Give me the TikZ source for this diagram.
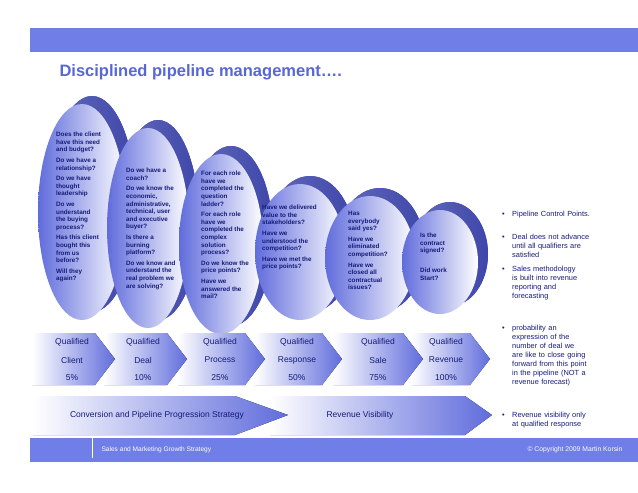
\documentclass[tikz,border=0pt]{standalone}
\usepackage{fontspec}
\setmainfont{Liberation Sans}
\usetikzlibrary{shapes.geometric}
\definecolor{bandblue}{RGB}{112,126,232}
\definecolor{midblue}{RGB}{96,108,220}
\definecolor{darkblue}{RGB}{62,70,170}
\definecolor{navy}{RGB}{22,28,120}
\definecolor{titleblue}{RGB}{88,104,210}
\newcommand{\bulletnote}[1]{\hyphenpenalty=10000\rightskip=0pt plus 40pt\hangindent=10pt\hangafter=1\noindent\makebox[10pt][l]{•}#1\endgraf}
\begin{document}
\begin{tikzpicture}
[
	x = 1pt, y = -1pt,
	egg/.style	= {ellipse, inner sep = 0pt, left color = midblue, right color = white, shading angle = 90},
	rim/.style	= {ellipse, inner sep = 0pt, fill = darkblue, left color = darkblue!80!white, right color = darkblue},
	ask/.style	= {anchor = north west, align = left, text = navy, font = \fontsize{6.3}{7.6}\selectfont\bfseries, inner sep = 0pt},
	chev/.style	= {left color = white, right color = midblue},
	step label/.style	= {text = navy, font = \fontsize{8.5}{9}\selectfont, align = center},
	note/.style	= {anchor = north west, text = navy, font = \fontsize{7.4}{9}\selectfont, text width = 88pt, inner sep = 0pt},
]
	\useasboundingbox (0,0) rectangle (638,493);
	\fill [white] (0,0) rectangle (638,493);

	% bands
	\fill [bandblue] (30,28) rectangle (638,52);
	\fill [bandblue] (30,438) rectangle (638,462);
	\draw [white, thin] (92,438) -- (92,458);
	\node (foot) [anchor = west, text = white, font = \fontsize{6.6}{7}\selectfont] at (98,450) {Sales and Marketing Growth Strategy};
	\node (copy) [anchor = east, text = white, font = \fontsize{6.8}{7}\selectfont] at (626,450) {\textcopyright{} Copyright 2009 Martin Korsin};
	\node (title) [anchor = west, text = titleblue, font = \fontsize{16.5}{17}\selectfont\bfseries] at (56,72) {Disciplined pipeline management….};

	% ellipses
	\foreach \n/\cx/\cy/\rx/\ry in {1/82/212/44/108, 2/148/228/41/100, 3/221/244/42/90, 4/300/252/45/68, 5/370/258/45/62, 6/440/262/38/52}
	{
		\node (rim\n) [rim, minimum width = 2*\rx pt, minimum height = 2*\ry pt] at (\cx+10,\cy-8) {};
		\node (egg\n) [egg, minimum width = 2*\rx pt, minimum height = 2*\ry pt] at (\cx,\cy) {};
	}

	\node (q1) [ask] at (56,132) {Does the client\\have this need\\and budget?\\[3pt]Do we have a\\relationship?\\[3pt]Do we have\\thought\\leadership\\[3pt]Do we\\understand\\the buying\\process?\\[3pt]Has this client\\bought this\\from us\\before?\\[3pt]Will they\\again?};
	\node (q2) [ask] at (126,168) {Do we have a\\coach?\\[3pt]Do we know the\\economic,\\administrative,\\technical, user\\and executive\\buyer?\\[3pt]Is there a\\burning\\platform?\\[3pt]Do we know and\\understand the\\real problem we\\are solving?};
	\node (q3) [ask] at (201,171) {For each role\\have we\\completed the\\question\\ladder?\\[3pt]For each role\\have we\\completed the\\complex\\solution\\process?\\[3pt]Do we know the\\price points?\\[3pt]Have we\\answered the\\mail?};
	\node (q4) [ask] at (262,205) {Have we delivered\\value to the\\stakeholders?\\[3pt]Have we\\understood the\\competition?\\[3pt]Have we met the\\price points?};
	\node (q5) [ask] at (348,211) {Has\\everybody\\said yes?\\[3pt]Have we\\eliminated\\competition?\\[3pt]Have we\\closed all\\contractual\\issues?};
	\node (q6) [ask] at (420,233) {Is the\\contract\\signed?\\[12pt]Did work\\Start?};

	% chevrons (drawn back to front)
	\foreach \a/\t in {412/490, 333/423, 255/342, 178/265, 105/187, 33/115}
		\fill [chev] (\a,333) -- (\t-20,333) -- (\t,359) -- (\t-20,385) -- (\a,385) -- cycle;

	\foreach \n/\x/\w/\p in {1/72/Client/5\%, 2/143/Deal/10\%, 3/220/Process/25\%, 4/297/Response/50\%, 5/378/Sale/75\%, 6/446/Revenue/100\%}
	{
		\node (qual\n) [step label] at (\x,342) {Qualified};
		\node (what\n) [step label] at (\x,360) {\w};
		\node (pct\n) [step label] at (\x,378) {\p};
	}

	% strategy arrows
	\fill [chev] (270,396) -- (465,396) -- (492,415) -- (465,435) -- (270,435) -- cycle;
	\fill [chev] (33,396) -- (235,396) -- (288,415) -- (235,435) -- (33,435) -- cycle;
	\node (conv) [step label] at (157,415) {Conversion and Pipeline Progression Strategy};
	\node (vis) [step label] at (360,415) {Revenue Visibility};

	% notes
	\foreach \n/\y/\t in {1/211/{Pipeline Control Points.}, 2/234/{Deal does not advance until all qualifiers are satisfied}, 3/266/{Sales methodology is built into revenue reporting and forecasting}, 4/325/{probability an expression of the number of deal we are like to close going forward from this point in the pipeline (NOT a revenue forecast)}, 5/412/{Revenue visibility only at qualified response}}
		\node (note\n) [note] at (502,\y) {\bulletnote{\t}};

\end{tikzpicture}
\end{document}
